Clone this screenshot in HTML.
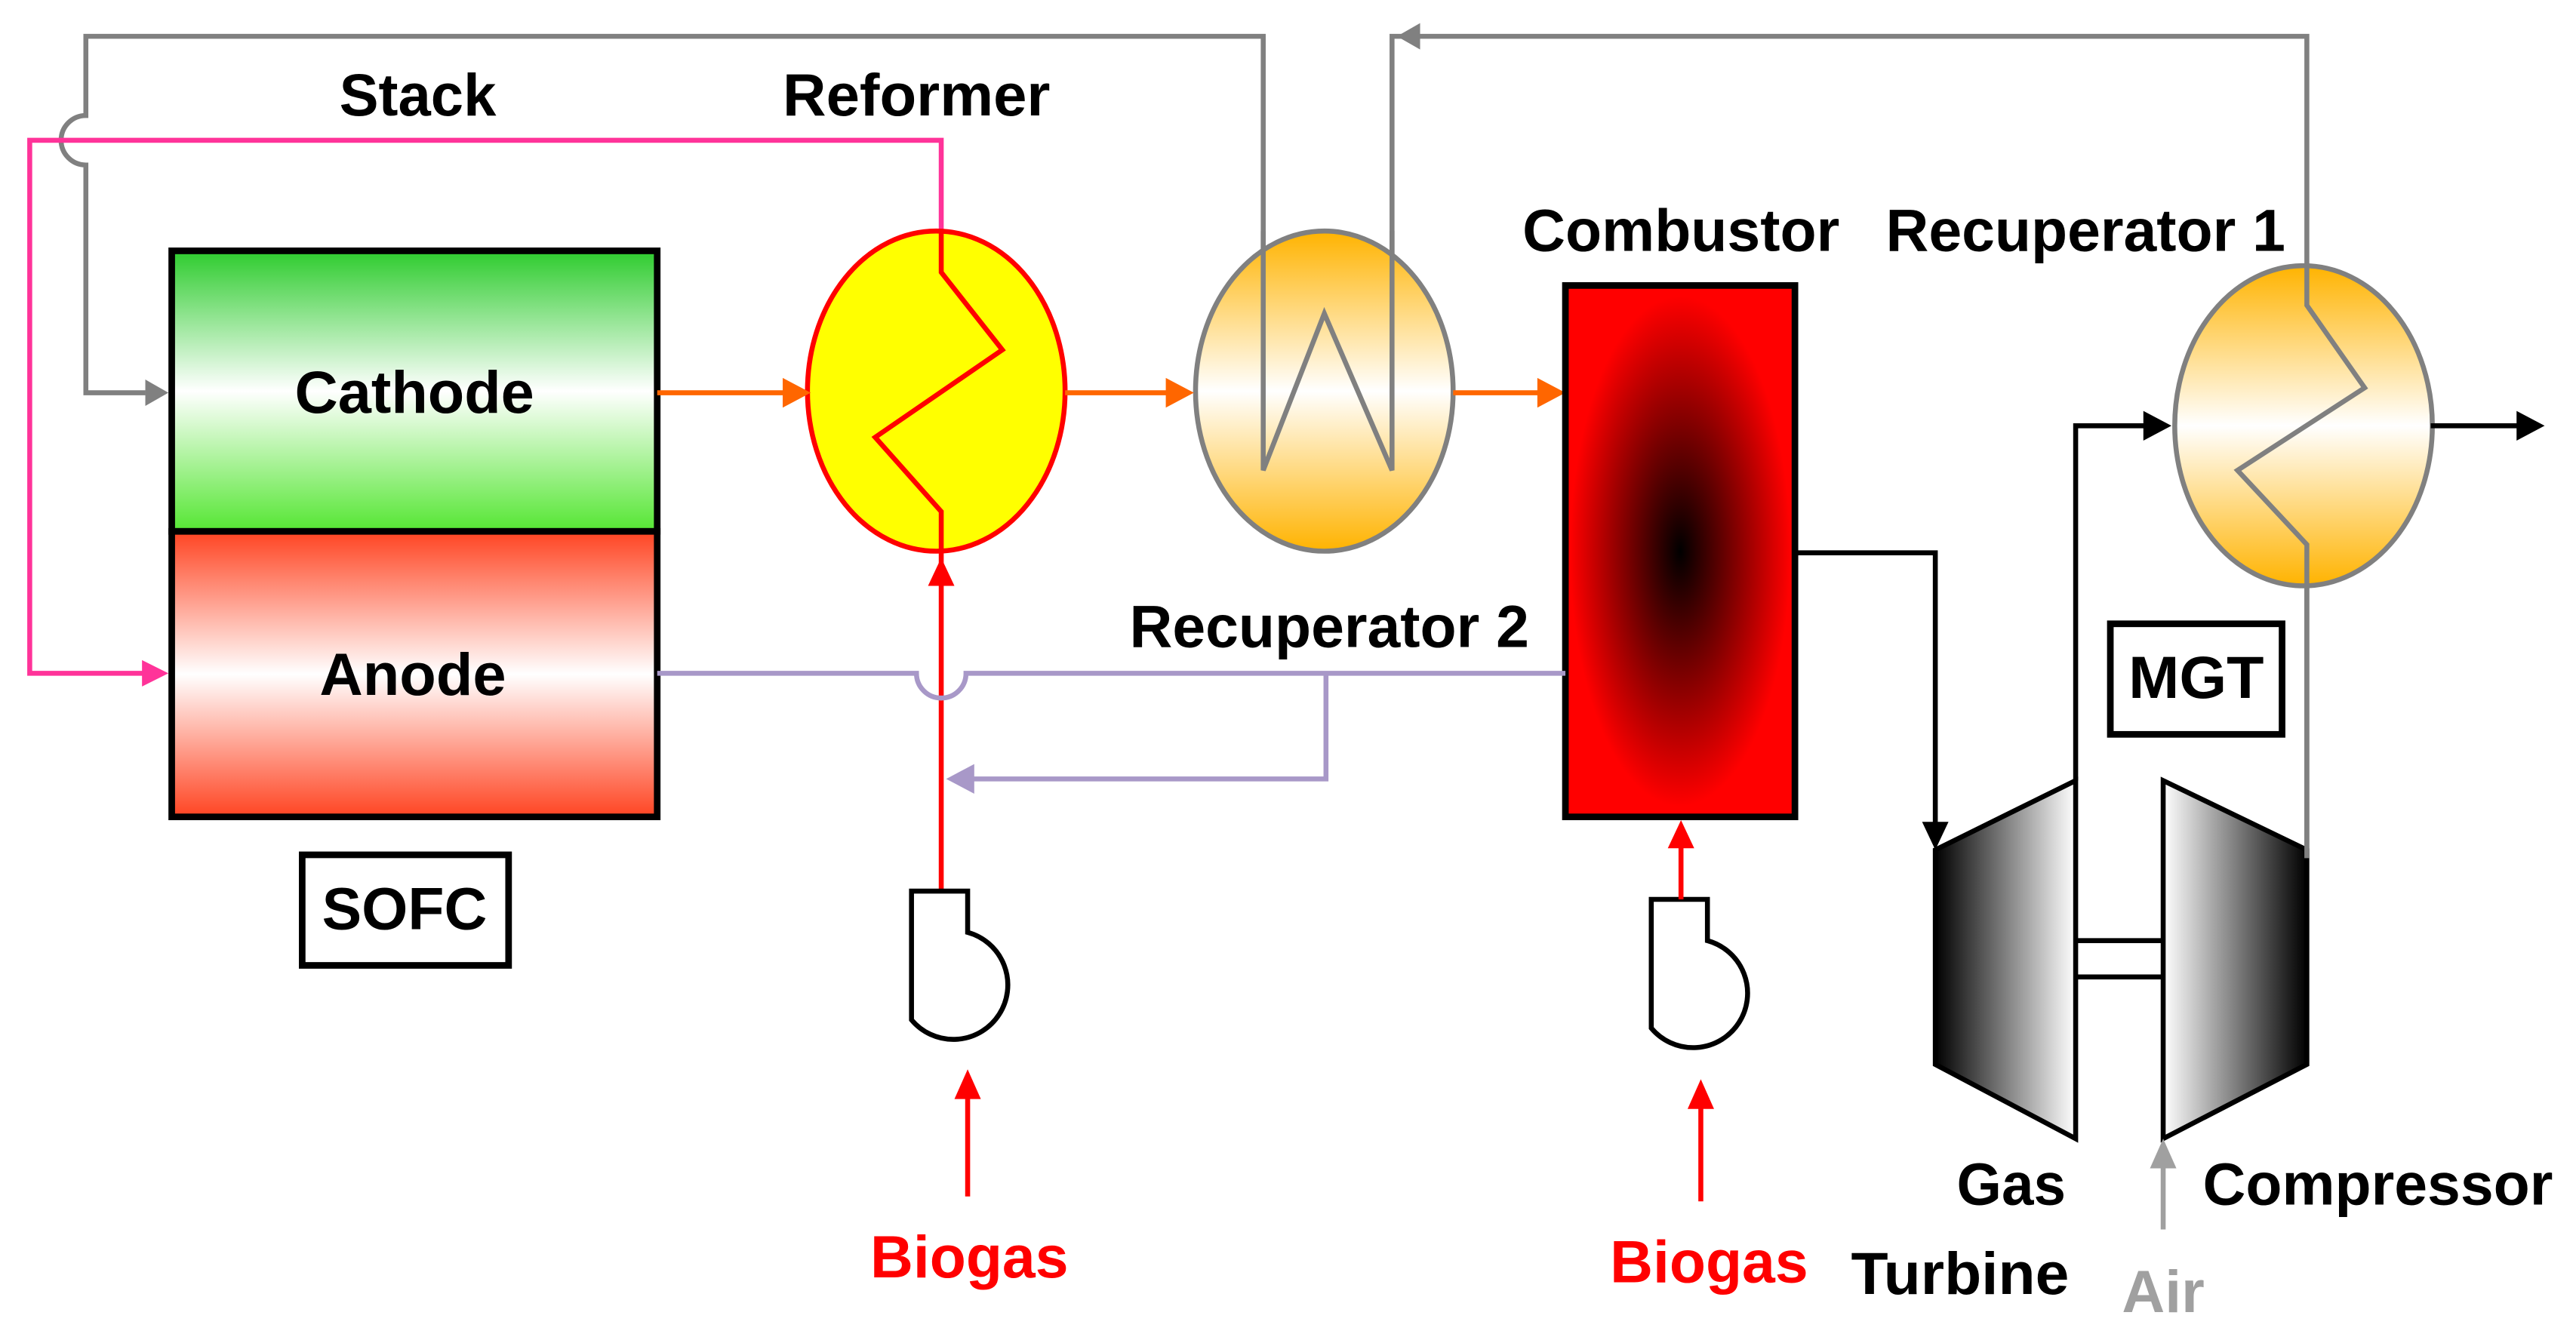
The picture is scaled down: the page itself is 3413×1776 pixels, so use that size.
<!DOCTYPE html>
<html><head><meta charset="utf-8"><style>html,body{margin:0;padding:0;background:#fff}svg{display:block}</style></head><body>
<svg width="3413" height="1776" viewBox="0 0 1560 812" preserveAspectRatio="none" xmlns="http://www.w3.org/2000/svg" font-family="Liberation Sans, sans-serif" font-weight="bold">
<defs>
<linearGradient id="cat" x1="0" y1="0" x2="0" y2="1"><stop offset="0" stop-color="#2ecc2e"/><stop offset="0.5" stop-color="#ffffff"/><stop offset="1" stop-color="#55e633"/></linearGradient>
<linearGradient id="an" x1="0" y1="0" x2="0" y2="1"><stop offset="0" stop-color="#ff4422"/><stop offset="0.5" stop-color="#ffffff"/><stop offset="1" stop-color="#ff4422"/></linearGradient>
<linearGradient id="hx" x1="0" y1="0" x2="0" y2="1"><stop offset="0" stop-color="#ffb300"/><stop offset="0.5" stop-color="#ffffff"/><stop offset="1" stop-color="#ffb300"/></linearGradient>
<radialGradient id="comb" cx="0.5" cy="0.5" r="0.6"><stop offset="0" stop-color="#000"/><stop offset="0.8" stop-color="#ff0000"/></radialGradient>
<linearGradient id="tur" x1="0" y1="0" x2="1" y2="0"><stop offset="0" stop-color="#000"/><stop offset="1" stop-color="#fff"/></linearGradient>
<linearGradient id="com" x1="0" y1="0" x2="1" y2="0"><stop offset="0" stop-color="#fff"/><stop offset="1" stop-color="#000"/></linearGradient>
<marker id="ag" markerWidth="10" markerHeight="10" refX="9" refY="5" orient="auto" markerUnits="userSpaceOnUse" viewBox="0 0 10 10"><path d="M0,0L10,5L0,10z" fill="#808080"/></marker>
</defs>
<!-- gray loops -->
<path d="M765,285 L765,22 L52,22 L52,70 A15,15 0 0 0 52,100 L52,238 L88,238" fill="none" stroke="#808080" stroke-width="3"/>
<path d="M88,230 L102,238 L88,246z" fill="#808080"/>
<path d="M843,285 L843,22 L1397,22 L1397,520" fill="none" stroke="#808080" stroke-width="3"/>
<path d="M860,14 L846,22 L860,30z" fill="#808080"/>
<!-- pink -->
<path d="M570,140 L570,85 L18,85 L18,408 L88,408" fill="none" stroke="#ff3399" stroke-width="3"/>
<path d="M86,400 L102,408 L86,416z" fill="#ff3399"/>
<!-- boxes -->
<rect x="104" y="152" width="294" height="170" fill="url(#cat)" stroke="#000" stroke-width="4"/>
<rect x="104" y="322" width="294" height="173" fill="url(#an)" stroke="#000" stroke-width="4"/>
<!-- reformer -->
<ellipse cx="567" cy="237" rx="78" ry="97" fill="#ffff00" stroke="#ff0000" stroke-width="3"/>
<path d="M570,140 L570,165 L607,212 L530,265 L570,310 L570,540" fill="none" stroke="#ff0000" stroke-width="3"/>
<path d="M562,355 L570,338 L578,355z" fill="#ff0000"/>
<!-- HX -->
<ellipse cx="802" cy="237" rx="78" ry="97" fill="url(#hx)" stroke="#808080" stroke-width="3"/>
<path d="M765,140 L765,285 L802,190 L843,285 L843,140" fill="none" stroke="#808080" stroke-width="3"/>
<!-- orange -->
<g stroke="#ff6600" stroke-width="3"><line x1="398" y1="238" x2="476" y2="238"/><line x1="645" y1="238" x2="708" y2="238"/><line x1="880" y1="238" x2="933" y2="238"/></g>
<g fill="#ff6600"><path d="M474,229L491,238L474,247z"/><path d="M706,229L723,238L706,247z"/><path d="M931,229L948,238L931,247z"/></g>
<!-- combustor -->
<rect x="948" y="173" width="139" height="322" fill="url(#comb)" stroke="#000" stroke-width="4"/>
<!-- purple -->
<path d="M398,408 L555,408 A15,15 0 0 0 585,408 L948,408 M803,408 L803,472 L588,472" fill="none" stroke="#a898c8" stroke-width="3"/>
<path d="M590,463 L573,472 L590,481z" fill="#a898c8"/>
<!-- black to turbine -->
<path d="M1087,335 L1172,335 L1172,500" fill="none" stroke="#000" stroke-width="3"/>
<path d="M1164,498 L1172,515 L1180,498z" fill="#000"/>
<!-- turbine/compressor -->
<path d="M1172,515 L1257,473 L1257,690 L1172,645z" fill="url(#tur)" stroke="#000" stroke-width="3"/>
<path d="M1310,473 L1397,515 L1397,645 L1310,690z" fill="url(#com)" stroke="#000" stroke-width="3"/>
<g stroke="#000" stroke-width="3"><line x1="1257" y1="570" x2="1310" y2="570"/><line x1="1257" y1="592" x2="1310" y2="592"/></g>
<path d="M1257,473 L1257,258 L1300,258" fill="none" stroke="#000" stroke-width="3"/>
<path d="M1298,249 L1315,258 L1298,267z" fill="#000"/>
<!-- recup1 -->
<ellipse cx="1395" cy="258" rx="78" ry="97" fill="url(#hx)" stroke="#808080" stroke-width="3"/>
<path d="M1397,520 L1397,330 L1355,285 L1432,235 L1397,185 L1397,160" fill="none" stroke="#808080" stroke-width="3"/>
<line x1="1472" y1="258" x2="1526" y2="258" stroke="#000" stroke-width="3"/>
<path d="M1524,249 L1541,258 L1524,267z" fill="#000"/>
<!-- pumps -->
<path d="M570,540 L552,540 L552,618 A33,33 0 1 0 586,565 L586,540 L570,540" fill="#fff" stroke="#000" stroke-width="3"/>
<path d="M1018,545 L1000,545 L1000,623 A33,33 0 1 0 1034,570 L1034,545 L1018,545" fill="#fff" stroke="#000" stroke-width="3"/>
<line x1="1018" y1="545" x2="1018" y2="512" stroke="#ff0000" stroke-width="3"/>
<path d="M1010,514 L1018,497 L1026,514z" fill="#ff0000"/>
<!-- biogas arrows -->
<line x1="586" y1="725" x2="586" y2="664" stroke="#ff0000" stroke-width="3"/>
<path d="M578,666 L586,648 L594,666z" fill="#ff0000"/>
<line x1="1030" y1="728" x2="1030" y2="670" stroke="#ff0000" stroke-width="3"/>
<path d="M1022,672 L1030,654 L1038,672z" fill="#ff0000"/>
<line x1="1310" y1="745" x2="1310" y2="706" stroke="#a0a0a0" stroke-width="3"/>
<path d="M1302,708 L1310,690 L1318,708z" fill="#a0a0a0"/>
<!-- label boxes -->
<rect x="183" y="518" width="125" height="67" fill="#fff" stroke="#000" stroke-width="4"/>
<rect x="1278" y="378" width="104" height="67" fill="#fff" stroke="#000" stroke-width="4"/>
<!-- text -->
<g font-size="36" text-anchor="middle" fill="#000">
<text x="253" y="70" textLength="95" lengthAdjust="spacingAndGlyphs">Stack</text>
<text x="555" y="70" textLength="162" lengthAdjust="spacingAndGlyphs">Reformer</text>
<text x="1018" y="152" textLength="192" lengthAdjust="spacingAndGlyphs">Combustor</text>
<text x="1263" y="152" textLength="242" lengthAdjust="spacingAndGlyphs">Recuperator 1</text>
<text x="805" y="392" textLength="242" lengthAdjust="spacingAndGlyphs">Recuperator 2</text>
<text x="251" y="250" textLength="145" lengthAdjust="spacingAndGlyphs">Cathode</text>
<text x="250" y="421" textLength="113" lengthAdjust="spacingAndGlyphs">Anode</text>
<text x="245" y="563" textLength="100" lengthAdjust="spacingAndGlyphs">SOFC</text>
<text x="1330" y="423" textLength="82" lengthAdjust="spacingAndGlyphs">MGT</text>
<text x="1218" y="730" textLength="66" lengthAdjust="spacingAndGlyphs">Gas</text>
<text x="1187" y="784" textLength="132" lengthAdjust="spacingAndGlyphs">Turbine</text>
<text x="1440" y="730" textLength="212" lengthAdjust="spacingAndGlyphs">Compressor</text>
<text x="587" y="774" fill="#ff0000" textLength="120" lengthAdjust="spacingAndGlyphs">Biogas</text>
<text x="1035" y="777" fill="#ff0000" textLength="120" lengthAdjust="spacingAndGlyphs">Biogas</text>
<text x="1310" y="795" fill="#a0a0a0" textLength="50" lengthAdjust="spacingAndGlyphs">Air</text>
</g>
</svg>
</body></html>
